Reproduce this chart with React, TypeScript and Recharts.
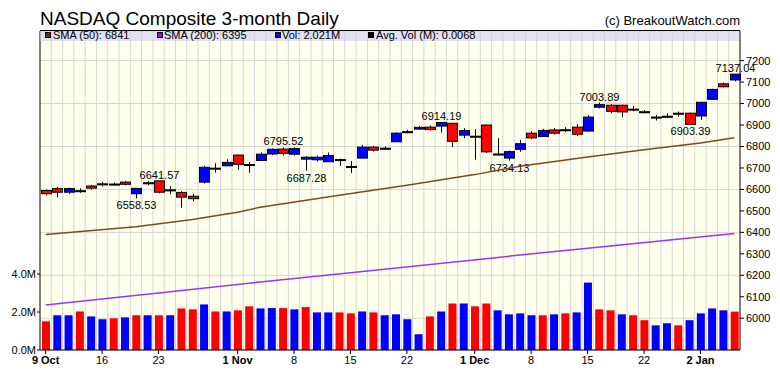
import {
  Bar,
  CartesianGrid,
  Cell,
  ComposedChart,
  Line,
  XAxis,
  YAxis,
} from "recharts";

const FONT = '"Liberation Sans", Arial, sans-serif';
const BLUE = "#0000ff";
const RED = "#ff0000";

// trading days, 9 Oct 2017 .. 5 Jan 2018
const dates = [
  "Oct 9", "Oct 10", "Oct 11", "Oct 12", "Oct 13",
  "Oct 16", "Oct 17", "Oct 18", "Oct 19", "Oct 20",
  "Oct 23", "Oct 24", "Oct 25", "Oct 26", "Oct 27",
  "Oct 30", "Oct 31", "Nov 1", "Nov 2", "Nov 3",
  "Nov 6", "Nov 7", "Nov 8", "Nov 9", "Nov 10",
  "Nov 13", "Nov 14", "Nov 15", "Nov 16", "Nov 17",
  "Nov 20", "Nov 21", "Nov 22", "Nov 24",
  "Nov 27", "Nov 28", "Nov 29", "Nov 30", "Dec 1",
  "Dec 4", "Dec 5", "Dec 6", "Dec 7", "Dec 8",
  "Dec 11", "Dec 12", "Dec 13", "Dec 14", "Dec 15",
  "Dec 18", "Dec 19", "Dec 20", "Dec 21", "Dec 22",
  "Dec 26", "Dec 27", "Dec 28", "Dec 29",
  "Jan 2", "Jan 3", "Jan 4", "Jan 5",
];

const opens = [
  6595, 6604, 6587, 6594, 6616, 6626, 6625, 6634, 6580, 6631,
  6640, 6597, 6586, 6568, 6634, 6697, 6710, 6760, 6716, 6735,
  6765, 6788, 6764, 6741, 6738, 6729, 6739, 6707, 6746, 6797,
  6792, 6822, 6869, 6881, 6890, 6895, 6908, 6853, 6846, 6900,
  6765, 6746, 6787, 6862, 6846, 6877, 6878, 6890, 6872, 6983,
  6992, 6992, 6974, 6962, 6937, 6941, 6954, 6955, 6942, 7020,
  7092, 7110,
];

const highs = [
  6600, 6611, 6608, 6605, 6620, 6636, 6633, 6640, 6606, 6638,
  6641.57, 6616, 6592, 6579, 6710, 6722, 6740, 6762, 6728, 6772,
  6790, 6795.52, 6796, 6755, 6757, 6772, 6744, 6732, 6808, 6803,
  6800, 6866, 6877, 6896, 6898, 6914.19, 6910, 6885, 6881, 6902,
  6839, 6781, 6830, 6872, 6882, 6886, 6890, 6904, 6947, 7003.89,
  6998, 6995, 6989, 6970, 6947, 6955, 6963, 6958, 7007, 7069,
  7098, 7137.04,
];

const lows = [
  6572, 6563, 6578, 6584, 6598, 6614, 6619, 6619, 6558.53, 6620,
  6582, 6578, 6515, 6544, 6628, 6678, 6708, 6692, 6678, 6735,
  6760, 6758, 6757, 6687.28, 6730, 6728, 6710, 6676, 6746, 6777,
  6785, 6822, 6862, 6877, 6874, 6865, 6797, 6839, 6739, 6770,
  6757, 6734.13, 6776, 6834, 6846, 6855, 6869, 6849, 6869, 6978,
  6955, 6936, 6964, 6955, 6921, 6932, 6939, 6903.39, 6924, 7020,
  7076, 7103,
];

const closes = [
  6580, 6587, 6604, 6592, 6606, 6624, 6624, 6624, 6605, 6629,
  6587, 6598, 6564, 6557, 6703, 6699, 6726, 6717, 6715, 6764,
  6787, 6768, 6790, 6750, 6750, 6758, 6738, 6706, 6797, 6783,
  6791, 6862, 6867, 6889, 6879, 6912, 6824, 6874, 6848, 6775,
  6762, 6776, 6813, 6840, 6875, 6862, 6876, 6857, 6937, 6995,
  6964, 6961, 6973, 6960, 6936, 6940, 6955, 6903.39, 7006, 7066,
  7078, 7137,
];

// volume in millions
const volumes = [
  1.51, 1.83, 1.83, 2.03, 1.77, 1.62, 1.67, 1.72, 1.83, 1.83,
  1.83, 1.83, 2.19, 2.14, 2.4, 2.03, 2.03, 2.09, 2.3, 2.19,
  2.21, 2.21, 2.14, 2.26, 1.98, 1.98, 1.98, 1.93, 2.03, 1.98,
  1.83, 1.88, 1.62, 0.83, 1.77, 2.03, 2.45, 2.45, 2.3, 2.45,
  2.09, 1.88, 1.93, 1.83, 1.83, 1.88, 1.93, 1.98, 3.55, 2.14,
  2.09, 1.88, 1.83, 1.57, 1.3, 1.41, 1.3, 1.57, 1.93, 2.19,
  2.09, 2.02,
];

// "b" = up day (blue), "d" = down day (red)
const volumeDir = "dbbdbbdbdbdbddbdbddbbdbdbbddbdbbbbdbdbddbbbbdbdbbddbddbbdbbbb";

// moving averages read at a few days
const sma50Idx = [0, 8, 13, 17, 19, 26, 32, 38, 42, 48, 53, 58, 61];
const sma50Val = [6390, 6426, 6460, 6494, 6517, 6573, 6619, 6669, 6708, 6751, 6785, 6816, 6841];
const sma200Idx = [0, 10, 19, 27, 42, 50, 61];
const sma200Val = [6062, 6117, 6169, 6212, 6294, 6336, 6395];

// swing labels
const peakIdx = [10, 21, 35, 49, 61];
const troughIdx = [8, 23, 41, 57];

// x-axis labels
const tickIdx = [0, 5, 10, 17, 22, 27, 32, 38, 43, 48, 53, 58];
const tickText = ["9 Oct", "16", "23", "1 Nov", "8", "15", "22", "1 Dec", "8", "15", "22", "2 Jan"];

const priceTicks = [6000, 6100, 6200, 6300, 6400, 6500, 6600, 6700, 6800, 6900, 7000, 7100, 7200];
const volTicks = [0, 2, 4];

const N = dates.length;

const data = dates.map((date, i) => {
  const k50 = sma50Idx.indexOf(i);
  const k200 = sma200Idx.indexOf(i);
  return {
    i,
    date,
    o: opens[i],
    h: highs[i],
    l: lows[i],
    c: closes[i],
    range: [lows[i], highs[i]],
    vol: volumes[i],
    sma50: k50 >= 0 ? sma50Val[k50] : null,
    sma200: k200 >= 0 ? sma200Val[k200] : null,
  };
});

function Candle(props: any) {
  const { x, y, width, height, payload } = props;
  const { o, h, l, c, i } = payload;
  const cx = Math.round(x + width / 2) + 0.5;
  const py = (v: number) => y + ((h - v) / (h - l)) * height;
  const top = py(Math.max(o, c));
  const bot = py(Math.min(o, c));
  const fill = c > o + 3 ? BLUE : o > c + 3 ? RED : "#000";
  return (
    <g>
      <line x1={cx} x2={cx} y1={y} y2={y + height} stroke="#000" strokeWidth={1} />
      <rect
        x={cx - 5}
        y={top}
        width={10}
        height={Math.max(bot - top, 1)}
        fill={fill}
        stroke="#000"
        strokeWidth={1}
      />
      {peakIdx.includes(i) && (
        <text x={cx} y={y - 2} textAnchor="middle" fontSize={11} fontFamily={FONT} fill="#000">
          {h.toFixed(2)}
        </text>
      )}
      {troughIdx.includes(i) && (
        <text x={cx} y={y + height + 11} textAnchor="middle" fontSize={11} fontFamily={FONT} fill="#000">
          {l.toFixed(2)}
        </text>
      )}
    </g>
  );
}

function DateTick(props: any) {
  const { x, y, payload } = props;
  const k = tickIdx.indexOf(payload.value);
  if (k < 0) return <g />;
  const label = tickText[k];
  const bold = /[A-Za-z]/.test(label);
  return (
    <g>
      <line x1={x} x2={x} y1={y} y2={y + 4} stroke="#000" />
      <text
        x={x}
        y={y + 14}
        textAnchor="middle"
        fontSize={11}
        fontWeight={bold ? "bold" : "normal"}
        fontFamily={FONT}
        fill="#000"
      >
        {label}
      </text>
    </g>
  );
}

const legendItems = [
  { sx: 45, tx: 53, color: "#663300", text: "SMA (50): 6841" },
  { sx: 157, tx: 164, color: "#9900ff", text: "SMA (200): 6395" },
  { sx: 275, tx: 282, color: "#0000ff", text: "Vol: 2.021M" },
  { sx: 368, tx: 376, color: "#000000", text: "Avg. Vol (M): 0.0068" },
];

export default function App() {
  return (
    <div
      style={{
        position: "absolute",
        left: 0,
        top: 0,
        width: 780,
        height: 376,
        background: "#fff",
        fontFamily: FONT,
      }}
    >
      <ComposedChart
        width={780}
        height={376}
        data={data}
        margin={{ top: 31, right: 0, bottom: 0, left: 0 }}
      >
        {/* grid lines between the days */}
        <CartesianGrid
          xAxisId="main"
          yAxisId="price"
          stroke="#d6d6d6"
          fill="#ffffee"
          fillOpacity={1}
          verticalCoordinatesGenerator={({ offset }: any) =>
            Array.from({ length: N - 1 }, (_, k) => offset.left + (offset.width * (k + 1)) / N)
          }
        />

        <XAxis
          xAxisId="main"
          dataKey="i"
          height={26}
          interval={0}
          tickLine={false}
          tickSize={0}
          tickMargin={0}
          axisLine={{ stroke: "#000" }}
          tick={<DateTick />}
        />
        <XAxis xAxisId="vol" dataKey="i" hide />

        <YAxis
          yAxisId="vol"
          orientation="left"
          width={40}
          domain={[0, 16.8]}
          allowDataOverflow
          ticks={volTicks}
          tickFormatter={(v: number) => v.toFixed(1) + "M"}
          tickSize={3}
          tickMargin={1}
          axisLine={{ stroke: "#000" }}
          tickLine={{ stroke: "#000" }}
          tick={{ fontSize: 11, fill: "#000", fontFamily: FONT }}
        />
        <YAxis
          yAxisId="price"
          orientation="right"
          width={40}
          domain={[5852, 7338]}
          allowDataOverflow
          ticks={priceTicks}
          tickSize={4}
          tickMargin={2}
          axisLine={{ stroke: "#000" }}
          tickLine={{ stroke: "#000" }}
          tick={{ fontSize: 11, fill: "#000", fontFamily: FONT }}
        />

        {/* VOLUME */}
        <Bar
          xAxisId="vol"
          yAxisId="vol"
          dataKey="vol"
          barSize={8}
          isAnimationActive={false}
        >
          {data.map((d) => (
            <Cell key={d.i} fill={volumeDir[d.i] === "b" ? BLUE : RED} />
          ))}
        </Bar>

        {/* MOVING AVERAGES */}
        <Line
          xAxisId="main"
          yAxisId="price"
          dataKey="sma50"
          stroke="#7a4a1c"
          strokeWidth={1.5}
          dot={false}
          connectNulls
          isAnimationActive={false}
        />
        <Line
          xAxisId="main"
          yAxisId="price"
          dataKey="sma200"
          stroke="#9933ff"
          strokeWidth={1.5}
          dot={false}
          connectNulls
          isAnimationActive={false}
        />

        {/* CANDLES */}
        <Bar
          xAxisId="main"
          yAxisId="price"
          dataKey="range"
          barSize={10}
          shape={<Candle />}
          isAnimationActive={false}
        />
      </ComposedChart>

      {/* title, legend band, copyright */}
      <svg
        width={780}
        height={376}
        style={{ position: "absolute", left: 0, top: 0, pointerEvents: "none" }}
      >
        <text x={40} y={25} fontSize={19} fontFamily={FONT} fill="#000">
          NASDAQ Composite 3-month Daily
        </text>
        <text x={740} y={25} fontSize={13} fontFamily={FONT} textAnchor="end" fill="#000">
          (c) BreakoutWatch.com
        </text>
        <rect x={40} y={31} width={699} height={10} fill="rgba(205,205,245,0.6)" />
        <line x1={40} x2={740} y1={30.5} y2={30.5} stroke="#000" />
        {legendItems.map((it) => (
          <g key={it.text}>
            <rect x={it.sx + 0.5} y={32.5} width={5} height={5} fill={it.color} stroke="#000" />
            <text x={it.tx} y={39} fontSize={11} fontFamily={FONT} fill="#000">
              {it.text}
            </text>
          </g>
        ))}
      </svg>
    </div>
  );
}
